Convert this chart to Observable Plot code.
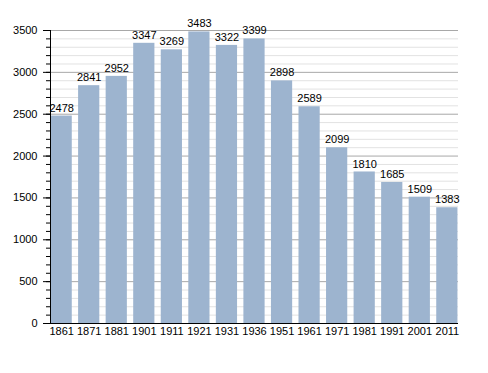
<!DOCTYPE html>
<html>
<head>
<meta charset="utf-8">
<script src="https://cdn.jsdelivr.net/npm/d3@7"></script>
<script src="https://cdn.jsdelivr.net/npm/@observablehq/plot@0.6"></script>
<style>
  html, body { margin: 0; padding: 0; background: #fff; }
  #chart svg { display: block; }
</style>
</head>
<body>
<div id="chart"></div>
<script>
const years = ["1861","1871","1881","1901","1911","1921","1931","1936","1951","1961","1971","1981","1991","2001","2011"];
const population = [2478,2841,2952,3347,3269,3483,3322,3399,2898,2589,2099,1810,1685,1509,1383];
const majorTicks = [0,500,1000,1500,2000,2500,3000,3500];
const minorTicks = d3.range(0, 3501, 100);

const data = years.map((year, i) => ({year, value: population[i]}));

const leftAxisLine = (index, scales, values, dims) => {
  const [y0, y1] = [scales.y(0), scales.y(3500)];
  return d3.create("svg:line")
    .attr("x1", dims.marginLeft + 0.5).attr("x2", dims.marginLeft + 0.5)
    .attr("y1", y0).attr("y2", y1)
    .attr("stroke", "#000").attr("stroke-width", 1).node();
};
const bottomAxisLine = (index, scales, values, dims) => {
  const y = Math.round(scales.y(0)) + 0.5;
  return d3.create("svg:line")
    .attr("x1", dims.marginLeft - 5).attr("x2", dims.width - dims.marginRight)
    .attr("y1", y).attr("y2", y)
    .attr("stroke", "#000").attr("stroke-width", 1.2).node();
};

const chart = Plot.plot({
  width: 488,
  height: 373,
  marginLeft: 50,
  marginRight: 30,
  marginTop: 30,
  marginBottom: 50,
  style: {fontFamily: "'Liberation Sans', Arial, sans-serif", fontSize: "11px", color: "#000", background: "#fff"},
  x: {type: "band", domain: years, paddingInner: 0.23, paddingOuter: 0.02, round: false, label: null},
  y: {domain: [0, 3500], label: null},
  marks: [
    Plot.ruleY(minorTicks.filter(d => d % 500 !== 0), {stroke: "#e2e2e2", strokeWidth: 1}),
    Plot.ruleY(majorTicks.filter(d => d > 0), {stroke: "#a8a8a8", strokeWidth: 1}),
    Plot.axisY(minorTicks, {tickSize: 4, tickFormat: () => "", stroke: "#000"}),
    Plot.axisY(majorTicks, {tickSize: 7, tickPadding: 6, tickFormat: d => String(d), fontSize: 11}),
    Plot.barY(data, {x: "year", y: "value", fill: "#9db4cf"}),
    Plot.text(data, {x: "year", y: "value", text: d => String(d.value), dy: -8, fontSize: 11, fill: "#000"}),
    Plot.axisX({tickSize: 0, tickPadding: 4, fontSize: 11}),
    leftAxisLine,
    bottomAxisLine
  ]
});
document.getElementById("chart").appendChild(chart);
</script>
</body>
</html>
